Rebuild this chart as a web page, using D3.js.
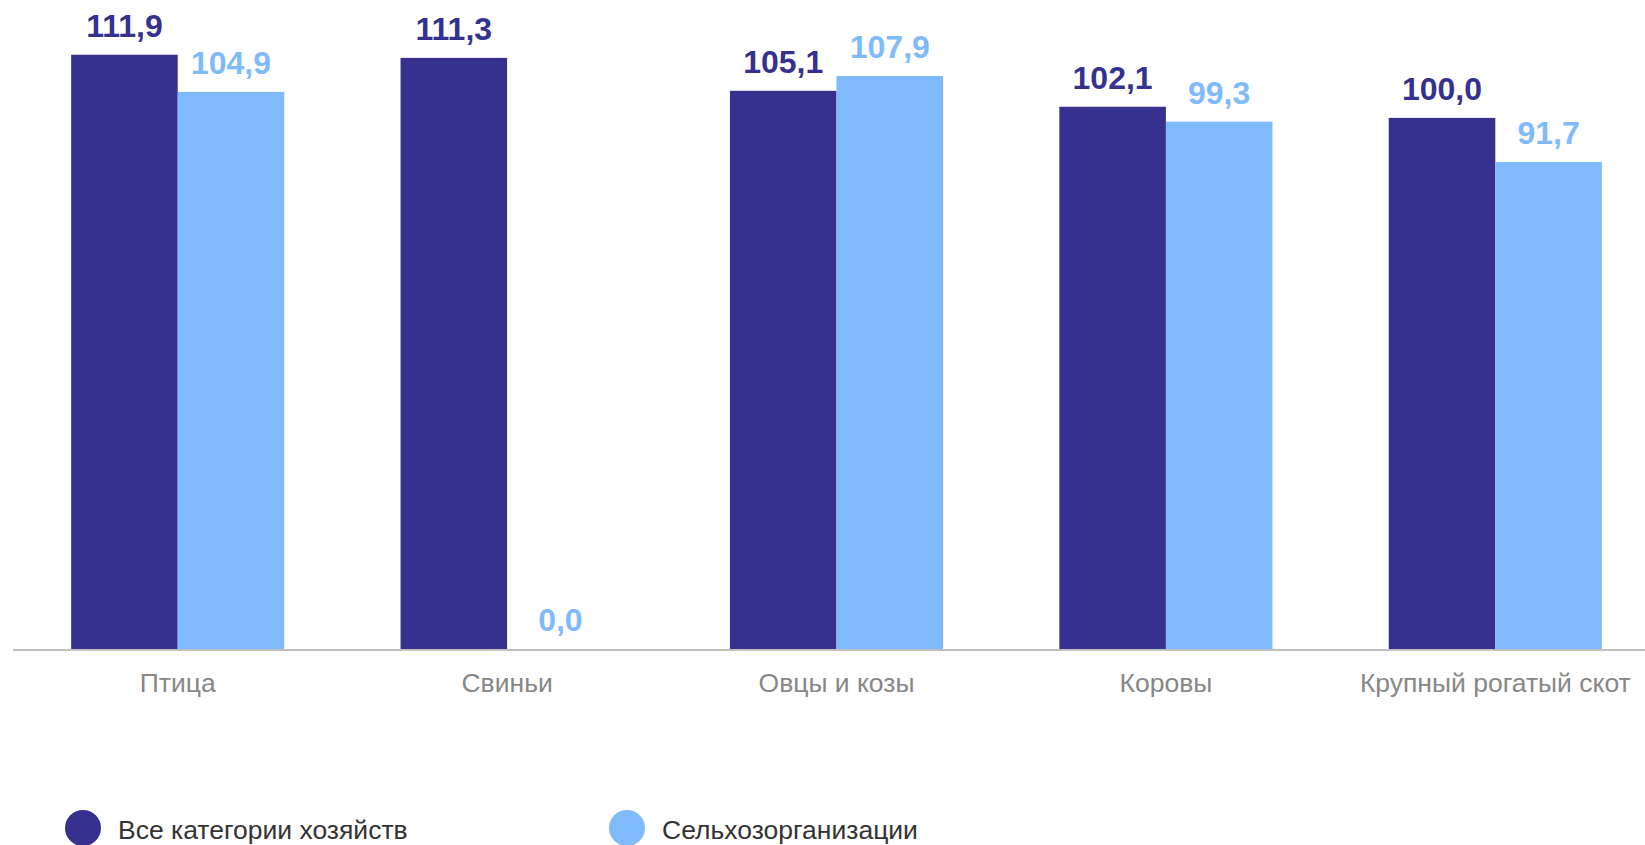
<!DOCTYPE html>
<html>
<head>
<meta charset="utf-8">
<script src="https://cdnjs.cloudflare.com/ajax/libs/d3/7.8.5/d3.min.js"></script>
<style>
  html, body { margin: 0; padding: 0; background: #fff; }
  svg { display: block; font-family: "Liberation Sans", Arial, sans-serif; }
</style>
</head>
<body>
<div id="chart"></div>
<script>
"use strict";

var categories = ['Птица', 'Свиньи', 'Овцы и козы', 'Коровы', 'Крупный рогатый скот'];
var seriesNames = ['Все категории хозяйств', 'Сельхозорганизации'];
var allFarms = [111.9, 111.3, 105.1, 102.1, 100.0];
var agriOrgs = [104.9, 0.0, 107.9, 99.3, 91.7];
var colors = ['#36318f', '#7fbbfb'];

var WIDTH = 1645;
var HEIGHT = 845;
var BASELINE = 649;

var svg = d3.select('#chart').append('svg')
  .attr('width', WIDTH)
  .attr('height', HEIGHT);

var data = categories.map(function (c, i) {
  return { cat: c, values: [allFarms[i], agriOrgs[i]] };
});

// category bands, some of the last band runs past the right edge
var x = d3.scaleBand().domain(categories).range([13, 1660])
  .paddingInner(0.353).paddingOuter(0.1765);
var xs = d3.scaleBand().domain([0, 1]).range([0, x.bandwidth()]);
var y = d3.scaleLinear().domain([0, 122.2]).range([BASELINE, 0]);

var groups = svg.append('g').selectAll('g')
  .data(data).enter().append('g')
  .attr('transform', function (d) { return 'translate(' + x(d.cat) + ',0)'; });

groups.selectAll('rect')
  .data(function (d) { return d.values; })
  .enter().append('rect')
  .attr('x', function (d, i) { return xs(i); })
  .attr('y', function (d) { return y(d); })
  .attr('width', xs.bandwidth())
  .attr('height', function (d) { return BASELINE - y(d); })
  .attr('fill', function (d, i) { return colors[i]; });

// value labels
groups.selectAll('text')
  .data(function (d) { return d.values; })
  .enter().append('text')
  .attr('x', function (d, i) { return xs(i) + xs.bandwidth() / 2; })
  .attr('y', function (d) { return y(d) - 18; })
  .attr('text-anchor', 'middle')
  .attr('font-size', 32)
  .attr('font-weight', 'bold')
  .attr('fill', function (d, i) { return colors[i]; })
  .text(function (d) { return d.toFixed(1).replace('.', ','); });

// x axis
var xAxis = svg.append('g')
  .attr('transform', 'translate(0,' + (BASELINE + 1) + ')')
  .call(d3.axisBottom(x).tickSize(0).tickSizeOuter(0).tickPadding(0));
xAxis.select('.domain').remove();
xAxis.append('line')
  .attr('x1', 13).attr('x2', WIDTH)
  .attr('stroke', '#c0c0c0').attr('stroke-width', 2);
xAxis.selectAll('.tick text')
  .attr('dy', 0)
  .attr('y', 42)
  .attr('font-size', 26.5)
  .attr('font-family', '"Liberation Sans", Arial, sans-serif')
  .attr('fill', '#878787');

// legend
var legendX = [83, 627];
var legend = svg.append('g').selectAll('g')
  .data(seriesNames).enter().append('g')
  .attr('transform', function (d, i) { return 'translate(' + legendX[i] + ',828)'; });
legend.append('circle')
  .attr('r', 18)
  .attr('fill', function (d, i) { return colors[i]; });
legend.append('text')
  .attr('x', 35)
  .attr('y', 11)
  .attr('font-size', 26.5)
  .attr('fill', '#333')
  .text(function (d) { return d; });
</script>
</body>
</html>
